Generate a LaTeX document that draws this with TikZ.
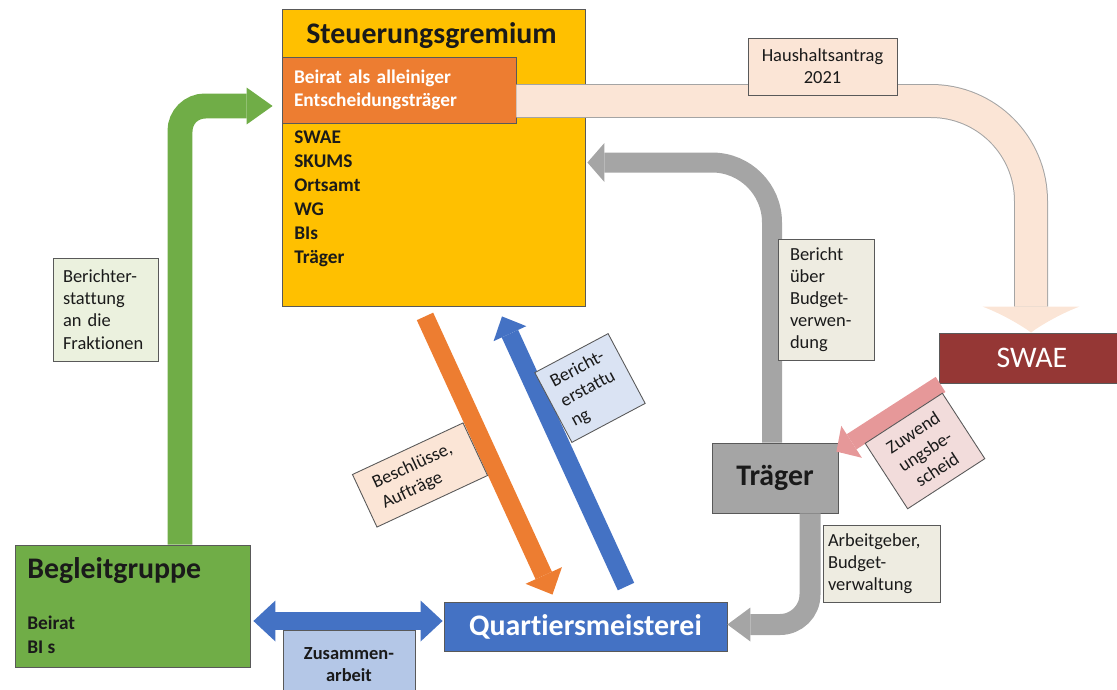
\documentclass[tikz,border=0pt]{standalone}
\usepackage{fontspec}
\setmainfont{Carlito}[Ligatures=NoCommon]
\usepackage{xcolor}
\definecolor{gremgelb}{RGB}{255,192,0}
\definecolor{beiratorange}{RGB}{237,125,49}
\definecolor{antragpfirsich}{RGB}{251,229,214}
\definecolor{swaerot}{RGB}{149,55,53}
\definecolor{traegergrau}{RGB}{165,165,165}
\definecolor{gruppengruen}{RGB}{112,173,71}
\definecolor{quartierblau}{RGB}{68,114,196}
\definecolor{bescheidrosa}{RGB}{230,152,153}
\definecolor{zettelbeige}{RGB}{238,236,225}
\definecolor{zettelgruen}{RGB}{235,241,222}
\definecolor{zettelblau}{RGB}{180,199,231}
\definecolor{zettelhellblau}{RGB}{218,227,243}
\definecolor{zettelrosa}{RGB}{242,220,219}
\definecolor{randgrau}{RGB}{89,89,89}
\definecolor{schrift}{RGB}{26,26,26}
\usepackage{tikz}
\usetikzlibrary{arrows.meta,positioning,calc}

\begin{document}
\begin{tikzpicture}[x=0.02cm, y=-0.02cm,
    box/.style={rectangle, draw=randgrau, line width=0.5pt},
    titel/.style={font=\fontsize{17}{20}\selectfont\bfseries},
    liste/.style={font=\fontsize{11}{13.7}\selectfont\bfseries, text=schrift, align=left, inner sep=0pt},
    zettel/.style={rectangle, draw=randgrau, line width=0.5pt, font=\fontsize{10.5}{12.6}\selectfont, text=schrift, align=left}]
    \useasboundingbox (0,0) rectangle (1117,690);

    % Steuerungsgremium
    \node[box, fill=gremgelb, minimum width=6.06cm, minimum height=5.94cm] (gremium) at (433.5,157.5) {};
    \node[titel, text=schrift, anchor=base] (gremtitel) at (431.5,43) {Steuerungsgremium};
    \node[box, fill=beiratorange, minimum width=4.68cm, minimum height=1.32cm, text width=4.2cm, inner xsep=0.24cm, align=left, text=white, font=\fontsize{11}{13}\selectfont\bfseries] (beirat) at (399,90) {Beirat als alleiniger\\Entscheidungsträger};
    \node[liste, anchor=north west] (gremliste) at (294,130.5) {SWAE\\SKUMS\\Ortsamt\\WG\\BIs\\Träger};

    % Akteure
    \node[box, fill=swaerot, minimum width=3.72cm, minimum height=1cm, text=white, font=\fontsize{17}{20}\selectfont] (swae) at (1032,358) {SWAE};
    \node[box, fill=traegergrau, minimum width=2.52cm, minimum height=1.4cm, titel, text=schrift] (traeger) at (775,478) {Träger};
    \node[box, fill=quartierblau, minimum width=5.66cm, minimum height=0.98cm, titel, text=white] (quartier) at (585.5,626.5) {Quartiersmeisterei};
    \node[box, fill=gruppengruen, minimum width=4.7cm, minimum height=2.44cm] (begleit) at (132.5,606) {};
    \node[titel, text=schrift, anchor=base west, inner sep=0pt] (begleittitel) at (27,578) {Begleitgruppe};
    \node[liste, anchor=north west] (begleitliste) at (27,615.5) {Beirat\\BI s};

    % Haushaltsantrag
    \draw[line width=0.68cm, color=randgrau!55, rounded corners=2cm, shorten >=0.52cm] ($(beirat.east)+(0,11)$) -| ($(swae.north)+(-1,0)$);
    \draw[-{Latex[width=1.94cm,length=0.52cm,line width=0pt]}, line width=0.64cm, color=antragpfirsich, rounded corners=2cm] ($(beirat.east)+(0,11)$) -| ($(swae.north)+(-1,0)$);

    % Berichte und Auftraege
    \draw[-{Triangle[width=0.74cm,length=0.52cm,line width=0pt]}, line width=0.5cm, color=gruppengruen, rounded corners=0.5cm] ($(begleit.north)+(47.5,0)$) |- ($(beirat.west)+(-9,16)$);
    \draw[-{Triangle[width=0.78cm,length=0.34cm,line width=0pt]}, line width=0.4cm, color=traegergrau, rounded corners=1.2cm] ($(traeger.north)+(-3,0)$) |- ($(gremium.east)+(2,5)$);
    \draw[-{Triangle[width=0.68cm,length=0.46cm,line width=0pt]}, line width=0.42cm, color=traegergrau, rounded corners=0.6cm] ($(traeger.south)+(35,0)$) |- ($(quartier.east)+(0,-2)$);
    \draw[{Triangle[width=0.82cm,length=0.44cm,line width=0pt]}-{Triangle[width=0.82cm,length=0.44cm,line width=0pt]}, line width=0.36cm, color=quartierblau] ($(begleit.east)+(3,15)$) -- ($(quartier.west)+(-1,-5.5)$);
    \draw[-{Triangle[width=0.8cm,length=0.42cm,line width=0pt]}, line width=0.36cm, color=beiratorange] ($(gremium.south)+(-8.5,10)$) -- ($(quartier.north)+(-33,-7)$);
    \draw[-{Triangle[width=0.72cm,length=0.38cm,line width=0pt]}, line width=0.36cm, color=quartierblau] ($(quartier.north)+(40.5,-15)$) -- ($(gremium.south)+(68.5,10)$);
    \draw[-{Triangle[width=0.76cm,length=0.36cm,line width=0pt]}, line width=0.36cm, color=bescheidrosa] ($(swae.south west)+(2,1)$) -- ($(traeger.north east)+(-2,9)$);

    % Beschriftungen
    \node[zettel, fill=antragpfirsich, minimum height=1.14cm, text width=2.7cm, inner xsep=0.14cm, align=center] (antrag) at (822.5,66.5) {Haushaltsantrag\\2021};
    \node[zettel, fill=zettelgruen, minimum height=2.06cm, text width=1.7cm, inner xsep=0.2cm] (frakt) at (105.5,309.5) {Berichter-\\stattung\\an die\\Fraktionen};
    \node[zettel, fill=zettelbeige, minimum height=2.42cm, text width=1.44cm, inner xsep=0.24cm] (budget) at (826,299.5) {Bericht\\über\\Budget-\\verwen-\\dung};
    \node[zettel, fill=zettelbeige, minimum height=1.54cm, text width=2.14cm, inner xsep=0.1cm] (arbeit) at (881.5,563.5) {Arbeitgeber,\\Budget-\\verwaltung};
    \node[zettel, fill=zettelblau, minimum height=1.4cm, text width=2.4cm, inner xsep=0.12cm, align=center, font=\fontsize{10.5}{12.6}\selectfont\bfseries] (zusammen) at (349,665) {Zusammen-\\arbeit};
    \node[zettel, fill=antragpfirsich, rotate=25, minimum height=1.16cm, text width=1.84cm, inner xsep=0.3cm] (beschl) at (420,475) {Beschlüsse,\\Aufträge};
    \node[zettel, fill=zettelhellblau, rotate=28, minimum height=1.58cm, text width=1.26cm, inner xsep=0.2cm] (berstatt) at (590,388) {Bericht-\\erstattu\\ng};
    \node[zettel, fill=zettelrosa, rotate=33, minimum height=1.56cm, text width=1.5cm, inner xsep=0.17cm, align=center] (zuwend) at (925,451) {Zuwend\\ungsbe-\\scheid};
\end{tikzpicture}
\end{document}
